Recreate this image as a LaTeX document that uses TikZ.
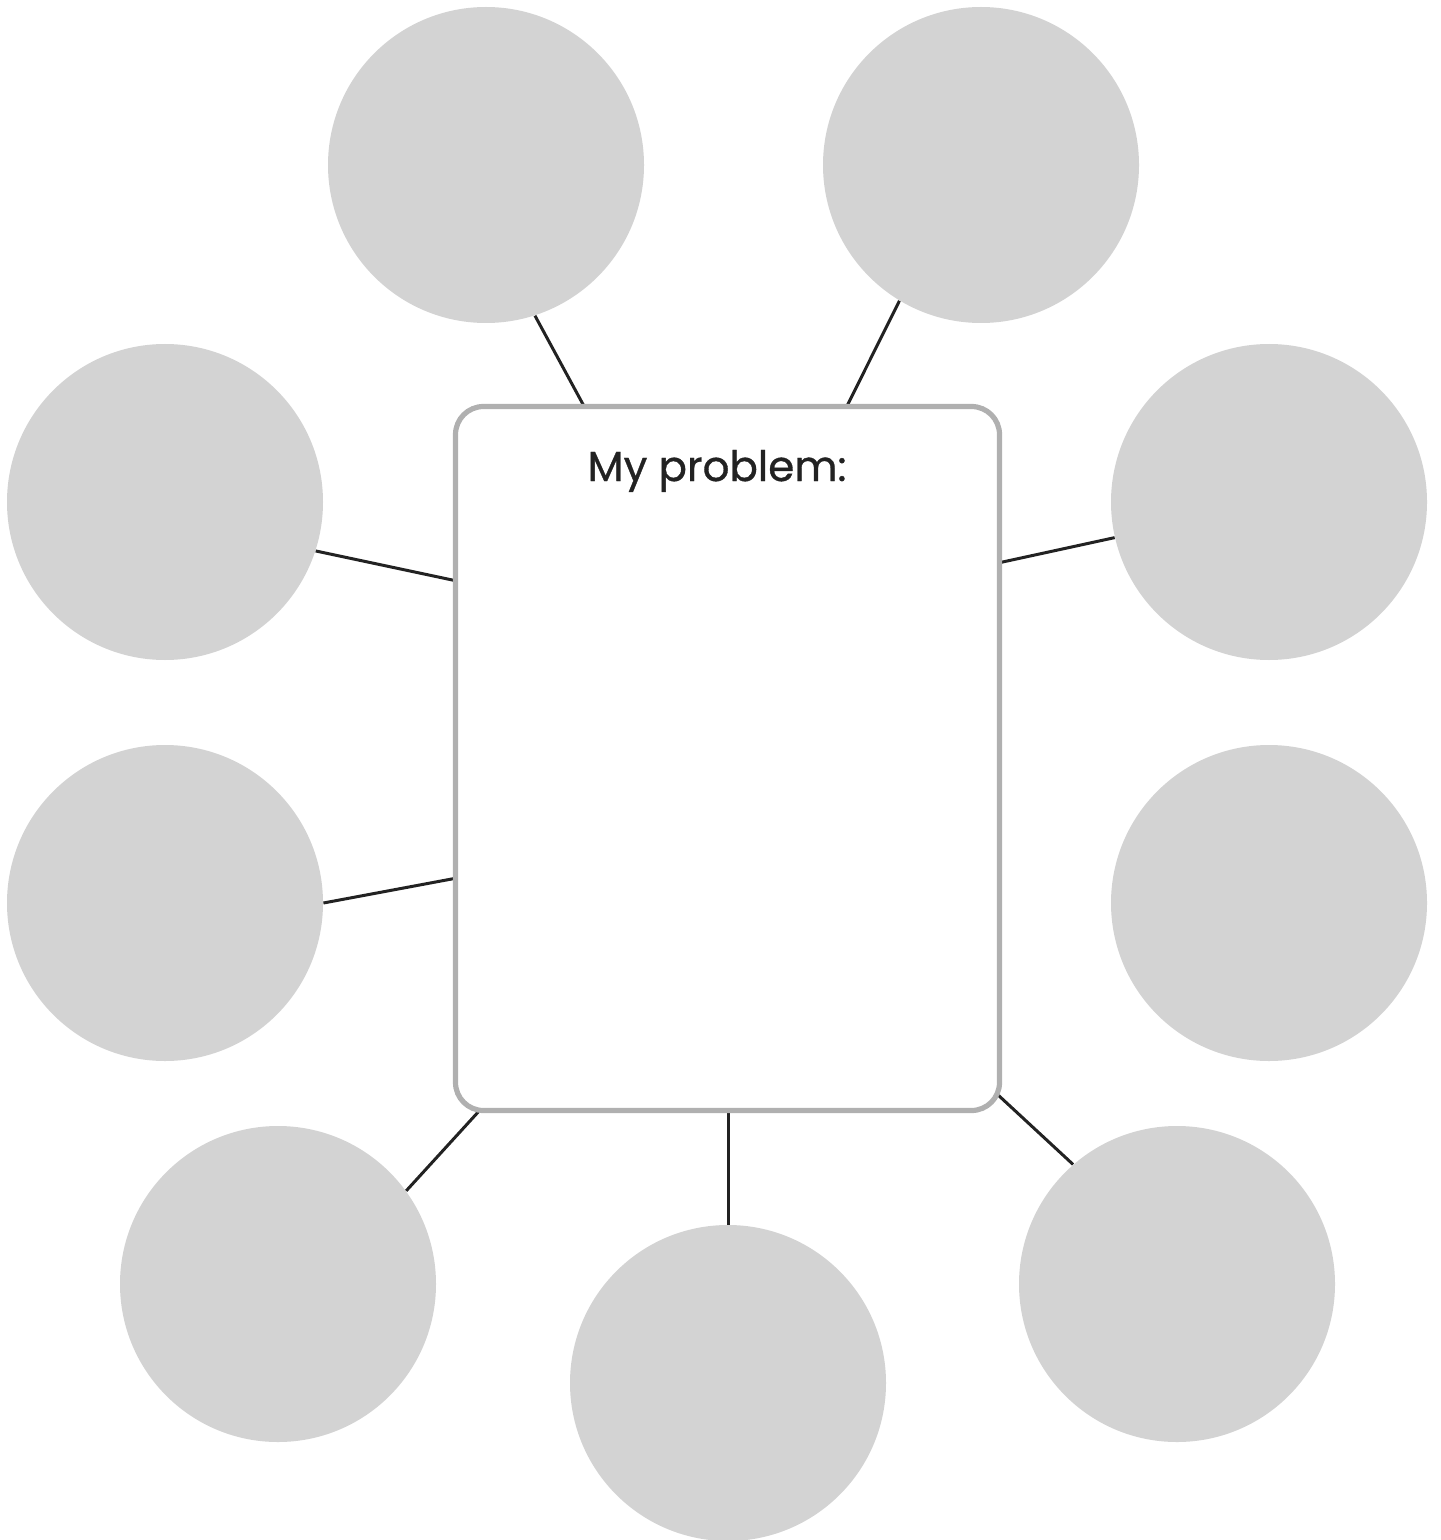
\documentclass[tikz,border=0pt]{standalone}
\usepackage{fontspec}
\setmainfont{Poppins}
\newfontfamily\titlefont[FakeBold=0.8]{Poppins}
\usetikzlibrary{backgrounds}
\definecolor{bubble}{RGB}{211,211,211}
\definecolor{frame}{RGB}{176,176,176}
\definecolor{ink}{RGB}{34,34,34}
\begin{document}
\begin{tikzpicture}[x=0.5pt,y=-0.5pt,
  bubble/.style={circle,fill=bubble,minimum size=158pt,inner sep=0pt},
  link/.style={draw=ink,line width=1.5pt},
  problembox/.style={draw=frame,line width=2.6pt,rounded corners=14pt,minimum width=272pt,minimum height=352pt,inner sep=0pt,fill=white}]
\useasboundingbox (0,0) rectangle (1440,1540);
\node[problembox] (box) at (727.5,758.5) {};
\node[anchor=base,font=\titlefont\fontsize{21}{25}\selectfont,text=ink] (title) at (717,481) {My problem:};
\node[bubble] (c1) at (486,165) {};
\node[bubble] (c2) at (981,165) {};
\node[bubble] (c3) at (165,502) {};
\node[bubble] (c4) at (1269,502) {};
\node[bubble] (c5) at (165,903) {};
\node[bubble] (c6) at (1269,903) {};
\node[bubble] (c7) at (278,1284) {};
\node[bubble] (c8) at (728,1383) {};
\node[bubble] (c9) at (1177,1284) {};
\coordinate (t1) at (585,408);
\coordinate (t2) at (846,408);
\coordinate (l1) at (457,581);
\coordinate (r1) at (998,563);
\coordinate (l2) at (457,878);
\coordinate (br) at (997,1094);
\coordinate (bl) at (480,1110);
\coordinate (bm) at (728,1110);
\begin{scope}[on background layer]
\draw[link] (c1.-72) -- (t1);
\draw[link] (c2.239) -- (t2);
\draw[link] (c3.-18) -- (l1);
\draw[link] (c4.193) -- (r1);
\draw[link] (c5.0) -- (l2);
\draw[link] (c9.131) -- (br);
\draw[link] (c7.36) -- (bl);
\draw[link] (c8.north) -- (bm);
\end{scope}
\end{tikzpicture}
\end{document}
